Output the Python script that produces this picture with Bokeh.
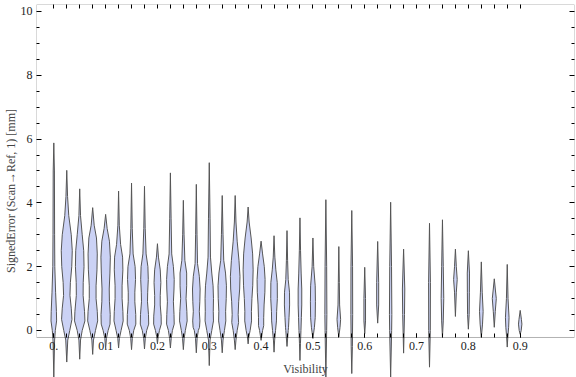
from bokeh.plotting import figure
from bokeh.models import LinearAxis, FixedTicker, BoxAnnotation, Range1d
from bokeh.embed import file_html
from bokeh.resources import INLINE

# ---------------- data ----------------
visibility = [0.0, 0.025, 0.05, 0.075, 0.1, 0.125, 0.15, 0.175, 0.2, 0.225,
              0.25, 0.275, 0.3, 0.325, 0.35, 0.375, 0.4, 0.425, 0.45, 0.475,
              0.5, 0.525, 0.55, 0.575, 0.6, 0.625, 0.65, 0.675,
              0.725, 0.75, 0.775, 0.8, 0.825, 0.85, 0.875, 0.9]

# SignedError levels (top -> bottom) of each violin outline
levels = [
    [5.88, 5.0, 3.0, 2.0, 1.2, 0.6, 0.3, 0.0, -0.3, -1.46],
    [5.02, 4.2, 3.6, 3.0, 2.5, 2.0, 1.5, 1.1, 0.7, 0.35, 0.0, -0.3, -0.99],
    [4.44, 3.6, 3.0, 2.5, 2.0, 1.5, 1.1, 0.6, 0.3, 0.0, -0.3, -0.9],
    [3.85, 3.3, 2.9, 2.4, 1.9, 1.4, 1.0, 0.6, 0.3, 0.0, -0.3, -0.75],
    [3.64, 3.2, 2.8, 2.3, 1.8, 1.3, 0.9, 0.5, 0.2, 0.0, -0.25, -0.57],
    [4.37, 3.3, 2.7, 2.3, 1.9, 1.4, 1.0, 0.6, 0.3, 0.0, -0.25, -0.55],
    [4.62, 3.2, 2.4, 2.0, 1.6, 1.2, 0.9, 0.5, 0.2, 0.0, -0.25, -0.6],
    [4.52, 3.2, 2.4, 2.0, 1.6, 1.2, 0.9, 0.5, 0.2, 0.0, -0.25, -0.58],
    [2.72, 2.3, 1.9, 1.5, 1.1, 0.8, 0.45, 0.2, 0.0, -0.2, -0.42],
    [4.94, 3.5, 2.4, 2.0, 1.6, 1.3, 0.9, 0.5, 0.2, 0.0, -0.25, -0.55],
    [4.08, 3.0, 2.2, 1.8, 1.4, 1.0, 0.6, 0.3, 0.0, -0.25, -0.6],
    [4.58, 3.0, 2.1, 1.7, 1.3, 0.9, 0.6, 0.3, 0.1, 0.0, -0.25, -0.7],
    [5.26, 3.5, 2.3, 1.8, 1.4, 1.0, 0.6, 0.3, 0.0, -0.3, -1.1],
    [4.23, 3.0, 2.2, 1.8, 1.4, 1.0, 0.6, 0.3, 0.0, -0.3, -0.7],
    [4.23, 3.4, 2.8, 2.2, 1.7, 1.3, 0.9, 0.5, 0.25, 0.0, -0.3, -0.6],
    [3.87, 3.4, 2.9, 2.4, 1.9, 1.4, 1.0, 0.6, 0.3, 0.0, -0.2, -0.42],
    [2.8, 2.4, 2.0, 1.6, 1.2, 0.8, 0.4, 0.15, 0.0, -0.31],
    [2.97, 2.3, 1.9, 1.5, 1.0, 0.6, 0.3, 0.0, -0.3, -0.68],
    [3.13, 2.2, 1.6, 1.2, 0.8, 0.4, 0.1, 0.0, -0.3, -0.5],
    [3.53, 2.5, 1.8, 1.3, 0.8, 0.4, 0.0, -0.4, -0.94],
    [2.9, 2.0, 1.4, 0.9, 0.4, 0.1, -0.25],
    [4.1, 2.0, 0.5, 0.0, -1.47],
    [2.63, 1.5, 0.8, 0.35, 0.1, -0.2],
    [3.76, 2.0, 0.5, -0.5, -1.35],
    [1.98, 1.0, 0.3, -0.1],
    [2.79, 1.5, 0.8, 0.23],
    [4.02, 2.0, 0.5, 0.0, -1.47],
    [2.55, 1.3, 0.5, -0.71],
    [3.36, 1.5, 0.0, -1.15],
    [3.47, 2.0, 1.0, 0.3, -0.21],
    [2.55, 2.0, 1.6, 1.2, 0.44],
    [2.5, 1.8, 1.2, 0.5, 0.04],
    [2.15, 1.2, 0.6, 0.2, -0.21],
    [1.62, 1.3, 1.0, 0.6, 0.1],
    [2.07, 1.0, 0.4, 0.1, -0.2, -0.52],
    [0.63, 0.35, 0.2, 0.0, -0.12],
]

# relative density (half width) of each violin at those levels
densities = [
    [0.0, 0.6, 0.8, 1.0, 1.8, 2.6, 2.8, 1.5, 0.8, 0.0],
    [0.0, 0.8, 2.0, 4.5, 5.5, 5.0, 3.6, 3.2, 4.5, 5.2, 3.0, 1.0, 0.0],
    [0.0, 0.8, 2.5, 4.0, 4.3, 3.5, 3.4, 4.8, 5.2, 2.5, 0.8, 0.0],
    [0.0, 1.5, 3.8, 4.6, 4.3, 3.4, 3.4, 4.6, 5.0, 2.8, 0.8, 0.0],
    [0.0, 1.5, 3.8, 4.7, 4.3, 3.6, 3.8, 4.6, 4.4, 2.5, 0.8, 0.0],
    [0.0, 0.7, 2.0, 4.0, 4.3, 3.5, 3.5, 4.3, 4.6, 2.5, 0.8, 0.0],
    [0.0, 0.7, 1.6, 3.6, 4.0, 3.3, 3.3, 4.2, 4.3, 2.2, 0.8, 0.0],
    [0.0, 0.7, 1.6, 3.4, 3.8, 3.2, 3.0, 4.0, 4.2, 2.2, 0.8, 0.0],
    [0.0, 1.0, 2.8, 3.4, 2.8, 2.8, 3.7, 3.8, 2.0, 0.7, 0.0],
    [0.0, 0.7, 1.3, 3.0, 3.8, 3.6, 3.0, 3.6, 3.8, 2.0, 0.8, 0.0],
    [0.0, 0.7, 1.5, 3.3, 3.3, 2.7, 3.5, 3.8, 2.0, 0.8, 0.0],
    [0.0, 0.7, 1.2, 3.0, 3.8, 3.5, 3.0, 3.6, 3.2, 2.0, 0.8, 0.0],
    [0.0, 0.8, 1.2, 2.5, 3.8, 4.2, 4.0, 4.2, 2.5, 0.8, 0.0],
    [0.0, 0.8, 1.5, 3.3, 4.2, 4.0, 3.4, 3.6, 2.2, 0.8, 0.0],
    [0.0, 0.8, 2.0, 3.8, 4.8, 4.5, 3.5, 3.0, 3.4, 2.0, 0.8, 0.0],
    [0.0, 1.0, 3.0, 4.5, 5.0, 4.6, 3.8, 3.3, 3.4, 2.0, 0.7, 0.0],
    [0.0, 1.5, 3.2, 4.0, 3.8, 3.0, 2.6, 2.6, 1.5, 0.0],
    [0.0, 0.8, 1.8, 3.2, 3.3, 2.6, 2.4, 1.5, 0.6, 0.0],
    [0.0, 0.6, 1.2, 2.5, 2.6, 2.0, 1.5, 1.2, 0.5, 0.0],
    [0.0, 0.6, 1.2, 1.8, 1.8, 1.4, 1.0, 0.5, 0.0],
    [0.0, 0.8, 2.3, 2.5, 2.3, 1.5, 0.0],
    [0.0, 0.8, 1.0, 0.8, 0.0],
    [0.0, 0.5, 0.8, 1.8, 1.2, 0.0],
    [0.0, 0.8, 0.9, 0.6, 0.0],
    [0.0, 0.8, 0.8, 0.0],
    [0.0, 1.0, 1.0, 0.0],
    [0.0, 0.9, 1.2, 1.0, 0.0],
    [0.0, 1.2, 0.9, 0.0],
    [0.0, 0.9, 0.8, 0.0],
    [0.0, 0.8, 1.3, 0.8, 0.0],
    [0.0, 0.9, 1.8, 0.9, 0.0],
    [0.0, 1.1, 1.0, 0.8, 0.0],
    [0.0, 0.9, 1.8, 1.2, 0.0],
    [0.0, 1.0, 2.0, 1.0, 0.0],
    [0.0, 0.8, 1.8, 1.4, 0.6, 0.0],
    [0.0, 1.2, 1.7, 1.0, 0.0],
]

category_ticks = [0.0, 0.025, 0.05, 0.075, 0.1, 0.125, 0.15, 0.175, 0.2, 0.225,
                  0.25, 0.275, 0.3, 0.325, 0.35, 0.375, 0.4, 0.425, 0.45, 0.475,
                  0.5, 0.525, 0.55, 0.575, 0.6, 0.625, 0.65, 0.675, 0.7,
                  0.725, 0.75, 0.775, 0.8, 0.825, 0.85, 0.875, 0.9]
x_label_ticks = [0.0, 0.1, 0.2, 0.3, 0.4, 0.5, 0.6, 0.7, 0.8, 0.9]
y_major = [0, 2, 4, 6, 8, 10]
y_minor = [0.5, 1, 1.5, 2.5, 3, 3.5, 4.5, 5, 5.5, 6.5, 7, 7.5, 8.5, 9, 9.5]

# ---------------- styling ----------------
FONT = "Liberation Serif"
WIDTH_SCALE = 1.0 / 518.2    # density unit -> visibility units
AXIS_Y = -0.22               # where the frame bottom / x axis sits

xs, ys = [], []
for v, lv, dw in zip(visibility, levels, densities):
    right = [v + w * WIDTH_SCALE for w in dw]
    left = [v - w * WIDTH_SCALE for w in reversed(dw)]
    xs.append(right + left)
    ys.append(lv + lv[::-1])

p = figure(width=576, height=377,
           x_range=Range1d(-0.0334, 1.0048), y_range=Range1d(-1.474, 10.219),
           output_backend="svg", toolbar_location=None,
           x_axis_location=None, y_axis_location="left",
           min_border_left=36, min_border_right=2, min_border_top=4,
           min_border_bottom=0)
p.grid.visible = False
p.outline_line_color = None
p.background_fill_color = "white"

p.patches(xs, ys, fill_color="#cbd2f5", line_color="#555555", line_width=1)

y_ticker = FixedTicker(ticks=y_major, minor_ticks=y_minor)

ya = p.yaxis[0]
ya.ticker = y_ticker
ya.axis_line_color = None
ya.major_tick_in = 5
ya.major_tick_out = 0
ya.minor_tick_in = 3
ya.minor_tick_out = 0
ya.major_label_text_font = FONT
ya.major_label_text_font_size = "12px"
ya.major_label_text_color = "#222222"
ya.major_label_standoff = 4
ya.axis_label = "SignedError (Scan\u2192Ref, 1) [mm]"
ya.axis_label_text_font = FONT
ya.axis_label_text_font_size = "12px"
ya.axis_label_text_font_style = "normal"
ya.axis_label_standoff = 0

ra = LinearAxis(ticker=y_ticker, axis_line_color=None,
                major_tick_in=5, major_tick_out=0,
                minor_tick_in=3, minor_tick_out=0,
                major_label_text_color=None, major_label_text_font_size="1px",
                major_label_standoff=0)
p.add_layout(ra, "right")

ta = LinearAxis(ticker=FixedTicker(ticks=category_ticks), axis_line_color=None,
                major_tick_in=4, major_tick_out=0,
                minor_tick_line_color=None,
                major_label_text_color=None, major_label_text_font_size="1px",
                major_label_standoff=0)
p.add_layout(ta, "above")

ba = LinearAxis(fixed_location=AXIS_Y,
                ticker=FixedTicker(ticks=x_label_ticks, minor_ticks=category_ticks),
                axis_line_color=None,
                major_tick_in=4, major_tick_out=0,
                minor_tick_in=4, minor_tick_out=0,
                major_label_overrides={0: "0."},
                major_label_text_font=FONT, major_label_text_font_size="12px",
                major_label_text_color="#222222", major_label_standoff=5,
                axis_label="Visibility", axis_label_text_font=FONT,
                axis_label_text_font_size="12px",
                axis_label_text_font_style="normal", axis_label_standoff=8)
p.add_layout(ba, "below")

frame_box = BoxAnnotation(bottom=AXIS_Y, fill_color=None,
                          line_color="black", line_width=1)
p.add_layout(frame_box)

open("out.html", "w").write(file_html(p, INLINE))
